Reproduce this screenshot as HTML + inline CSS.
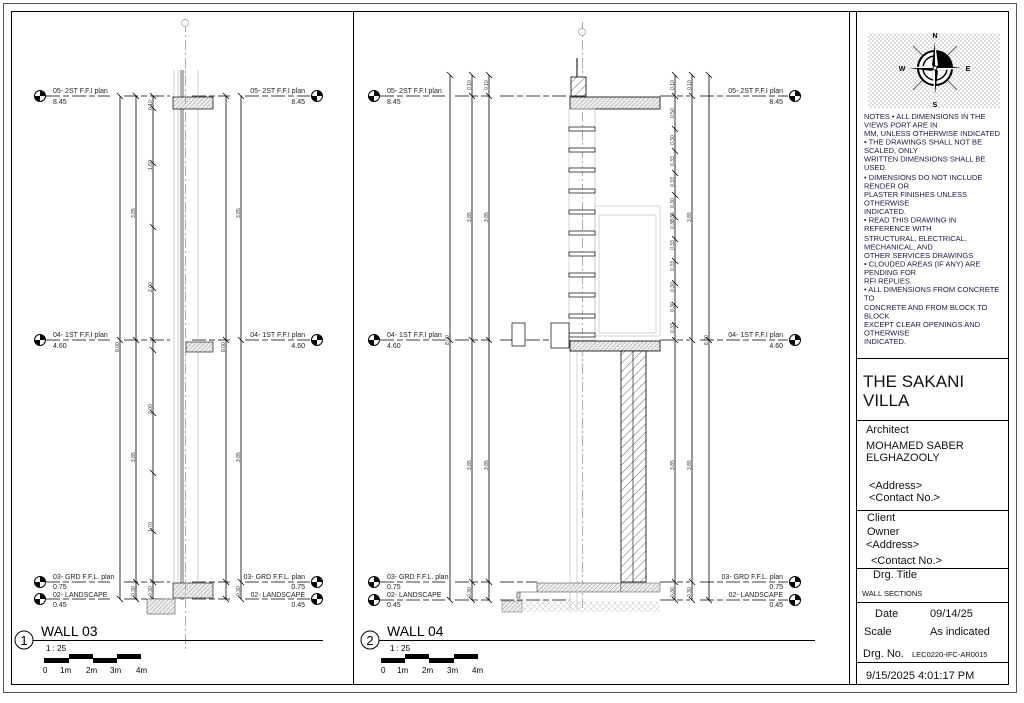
<!DOCTYPE html>
<html><head><meta charset="utf-8">
<style>
html,body{margin:0;padding:0;background:#fff;}
svg{display:block;font-family:"Liberation Sans",Arial,sans-serif;}
.lv{font-size:7px;fill:#222;}
.dm{font-size:5px;fill:#333;}
.nt{font-size:7.5px;fill:#1a1a40;}
</style></head><body>
<svg width="1024" height="703" viewBox="0 0 1024 703" xmlns="http://www.w3.org/2000/svg">
<defs>
<pattern id="h" width="3" height="3" patternUnits="userSpaceOnUse" patternTransform="rotate(45)"><rect width="3" height="3" fill="#eee"/><line x1="0" y1="0" x2="0" y2="3" stroke="#888" stroke-width="0.8"/></pattern>
<pattern id="hd" width="6" height="6" patternUnits="userSpaceOnUse" patternTransform="rotate(45)"><rect width="6" height="6" fill="#fff"/><line x1="0" y1="0" x2="0" y2="6" stroke="#666" stroke-width="1"/></pattern>
<pattern id="chk" width="4" height="4" patternUnits="userSpaceOnUse"><rect width="4" height="4" fill="#fff"/><rect width="2" height="2" fill="#ddd"/><rect x="2" y="2" width="2" height="2" fill="#ddd"/></pattern>
<pattern id="xh" width="6" height="6" patternUnits="userSpaceOnUse"><path d="M0 0L6 6M6 0L0 6" stroke="#ccc" stroke-width="0.6"/></pattern>
<g id="mk"><circle r="5.5" fill="#fff" stroke="#000" stroke-width="1"/><path d="M0 -5.5A5.5 5.5 0 0 1 5.5 0L0 0Z M0 5.5A5.5 5.5 0 0 1 -5.5 0L0 0Z" fill="#000"/></g>
</defs>
<rect width="1024" height="703" fill="#fff"/>
<rect x="3.5" y="3.5" width="1013" height="689" fill="none" stroke="#555" stroke-width="1"/>
<rect x="11.5" y="11.5" width="997" height="673" fill="none" stroke="#000" stroke-width="1"/>
<line x1="353.5" y1="11" x2="353.5" y2="685" stroke="#000"/>
<line x1="849.5" y1="11" x2="849.5" y2="685" stroke="#000"/>
<line x1="856.5" y1="11" x2="856.5" y2="685" stroke="#000"/>

<!-- ===== WALL 03 ===== -->
<g stroke="#000" stroke-width="0.8" fill="none">
<path d="M46 96H110M124 96H170M192 96H230M245 96H310" stroke-dasharray="14 3 6 3"/>
<path d="M46 340H110M124 340H170M192 340H230M245 340H310" stroke-dasharray="14 3 6 3"/>
<path d="M46 582H110M124 582H170M192 582H230M245 582H310" stroke-dasharray="14 3 6 3"/>
<path d="M46 599H110M124 599H170M192 599H230M245 599H310" stroke-dasharray="14 3 6 3"/>
<line x1="120" y1="96" x2="120" y2="599"/><line x1="136" y1="96" x2="136" y2="599"/><line x1="153" y1="96" x2="153" y2="599"/>
<line x1="226" y1="96" x2="226" y2="599"/><line x1="241" y1="96" x2="241" y2="599"/>
<path d="M117 93l6 6M133 93l6 6M150 93l6 6M223 93l6 6M238 93l6 6M117 337l6 6M133 337l6 6M150 337l6 6M223 337l6 6M238 337l6 6M133 579l6 6M150 579l6 6M223 579l6 6M238 579l6 6M117 596l6 6M133 596l6 6M150 596l6 6M223 596l6 6M238 596l6 6M150 105l6 6M150 160l6 6M150 224l6 6M150 285l6 6M150 347l6 6M150 410l6 6M150 470l6 6M150 528l6 6"/>
</g>
<g stroke="#bbb" stroke-width="0.7"><line x1="174" y1="70" x2="174" y2="600"/><line x1="178" y1="70" x2="178" y2="600"/><line x1="198" y1="70" x2="198" y2="600"/></g>
<g stroke="#444" stroke-width="0.8"><line x1="181" y1="70" x2="181" y2="600"/><line x1="183" y1="70" x2="183" y2="600"/></g>
<rect x="173" y="97" width="40" height="12" fill="url(#h)" stroke="#000" stroke-width="0.7"/>
<rect x="186" y="342" width="27" height="10" fill="url(#h)" stroke="#000" stroke-width="0.6"/>
<rect x="173" y="583" width="40" height="15" fill="url(#h)" stroke="#000" stroke-width="0.6"/>
<rect x="147" y="599" width="28" height="15" fill="url(#h)" stroke="#555" stroke-width="0.6"/>
<line x1="185.5" y1="22" x2="185.5" y2="650" stroke="#999" stroke-width="0.8" stroke-dasharray="10 3 2 3"/>
<circle cx="185" cy="23" r="3.5" fill="#fff" stroke="#999" stroke-width="0.7"/>
<use href="#mk" x="40" y="96"/><use href="#mk" x="40" y="340"/><use href="#mk" x="40" y="582"/><use href="#mk" x="40" y="599"/>
<use href="#mk" x="317" y="96"/><use href="#mk" x="317" y="340"/><use href="#mk" x="317" y="582"/><use href="#mk" x="317" y="599"/>
<g class="lv">
<text x="53" y="93">05- 2ST F.F.I plan</text><text x="53" y="104">8.45</text>
<text x="53" y="337">04- 1ST F.F.I plan</text><text x="53" y="348">4.60</text>
<text x="53" y="579">03- GRD F.F.L. plan</text><text x="53" y="589">0.75</text>
<text x="53" y="597">02- LANDSCAPE</text><text x="53" y="607">0.45</text>
<g text-anchor="end"><text x="305" y="93">05- 2ST F.F.I plan</text><text x="305" y="104">8.45</text>
<text x="305" y="337">04- 1ST F.F.I plan</text><text x="305" y="348">4.60</text>
<text x="305" y="579">03- GRD F.F.L. plan</text><text x="305" y="589">0.75</text>
<text x="305" y="597">02- LANDSCAPE</text><text x="305" y="607">0.45</text></g>
</g>
<g class="dm">
<text transform="translate(135,218) rotate(-90)">3.85</text><text transform="translate(240,218) rotate(-90)">3.85</text>
<text transform="translate(135,462) rotate(-90)">3.85</text><text transform="translate(240,462) rotate(-90)">3.85</text>
<text transform="translate(119,352) rotate(-90)">8.00</text><text transform="translate(225,352) rotate(-90)">8.00</text>
<text transform="translate(152,170) rotate(-90)">1.60</text><text transform="translate(152,292) rotate(-90)">2.00</text>
<text transform="translate(152,414) rotate(-90)">2.00</text><text transform="translate(152,532) rotate(-90)">1.70</text>
<text transform="translate(152,110) rotate(-90)">0.10</text><text transform="translate(135,596) rotate(-90)">0.30</text>
<text transform="translate(152,596) rotate(-90)">0.30</text><text transform="translate(240,596) rotate(-90)">0.30</text>
</g>
<circle cx="24" cy="640" r="9" fill="#fff" stroke="#000"/><text x="24" y="645" font-size="13" text-anchor="middle">1</text>
<text x="41" y="636" font-size="14">WALL 03</text>
<line x1="33" y1="640.5" x2="323" y2="640.5" stroke="#000"/>
<text x="46" y="651" font-size="8">1 : 25</text>
<g fill="#000"><rect x="44" y="658" width="25" height="5"/><rect x="69" y="654" width="24" height="5"/><rect x="93" y="658" width="24" height="5"/><rect x="117" y="654" width="24" height="5"/></g>
<g font-size="8"><text x="43" y="673">0</text><text x="60" y="673">1m</text><text x="86" y="673">2m</text><text x="110" y="673">3m</text><text x="136" y="673">4m</text></g>

<!-- ===== WALL 04 ===== -->
<g stroke="#000" stroke-width="0.8" fill="none">
<path d="M380 96H445M455 96H490M500 96H570M660 96H690M700 96H788" stroke-dasharray="14 3 6 3"/>
<path d="M380 340H445M455 340H490M500 340H570M660 340H690M700 340H788" stroke-dasharray="14 3 6 3"/>
<path d="M380 582H445M455 582H490M500 582H537M660 582H690M700 582H788" stroke-dasharray="14 3 6 3"/>
<path d="M380 600H445M455 600H490M500 600H570M660 600H690M700 600H788" stroke-dasharray="14 3 6 3"/>
<line x1="450" y1="75" x2="450" y2="600"/><line x1="472" y1="75" x2="472" y2="600"/><line x1="489" y1="75" x2="489" y2="600"/>
<line x1="675" y1="75" x2="675" y2="600"/><line x1="692" y1="75" x2="692" y2="600"/><line x1="709" y1="75" x2="709" y2="600"/>
<path d="M447 72l6 6M469 72l6 6M486 72l6 6M672 72l6 6M689 72l6 6M706 72l6 6M469 93l6 6M486 93l6 6M672 93l6 6M689 93l6 6M447 337l6 6M469 337l6 6M486 337l6 6M672 337l6 6M689 337l6 6M706 337l6 6M469 579l6 6M486 579l6 6M672 579l6 6M689 579l6 6M447 597l6 6M469 597l6 6M486 597l6 6M672 597l6 6M689 597l6 6M706 597l6 6M672 126l6 6M672 148l6 6M672 170l6 6M672 192l6 6M672 214l6 6M672 236l6 6M672 258l6 6M672 280l6 6M672 302l6 6M672 322l6 6"/>
</g>
<line x1="582.5" y1="22" x2="582.5" y2="612" stroke="#999" stroke-width="0.8" stroke-dasharray="10 3 2 3"/>
<circle cx="582" cy="32" r="3.5" fill="#fff" stroke="#999" stroke-width="0.7"/>
<line x1="577" y1="58" x2="577" y2="77" stroke="#555" stroke-width="1.5"/>
<rect x="571" y="77" width="15" height="19" fill="url(#hd)" stroke="#000" stroke-width="0.8"/>
<rect x="570" y="97" width="90" height="12" fill="url(#h)" stroke="#000" stroke-width="0.8"/>
<g stroke="#bbb" stroke-width="0.6" fill="none"><rect x="569" y="109" width="26" height="231"/><rect x="595" y="206" width="65" height="130"/><rect x="599" y="215" width="57" height="118"/><line x1="570" y1="340" x2="570" y2="610"/><line x1="577" y1="340" x2="577" y2="610"/></g>
<g fill="#fff" stroke="#000" stroke-width="0.7">
<rect x="569" y="127" width="26" height="4"/><rect x="569" y="148" width="26" height="4"/><rect x="569" y="168" width="26" height="4"/><rect x="569" y="189" width="26" height="4"/><rect x="569" y="210" width="26" height="4"/><rect x="569" y="231" width="26" height="4"/><rect x="569" y="252" width="26" height="4"/><rect x="569" y="273" width="26" height="4"/><rect x="569" y="293" width="26" height="4"/><rect x="569" y="314" width="26" height="4"/><rect x="569" y="333" width="26" height="4"/>
<rect x="512" y="323" width="13" height="23"/><rect x="551" y="323" width="18" height="25"/>
</g>
<rect x="570" y="341" width="90" height="10" fill="url(#h)" stroke="#000" stroke-width="0.8"/>
<rect x="621" y="351" width="25" height="231" fill="url(#hd)" stroke="#000" stroke-width="0.8"/>
<line x1="633" y1="351" x2="633" y2="582" stroke="#000" stroke-width="0.6"/>
<path d="M537 583H621V592H520V598H517V592H537Z" fill="url(#h)" stroke="#333" stroke-width="0.6"/>
<rect x="621" y="583" width="39" height="9" fill="url(#h)" stroke="#555" stroke-width="0.5"/>
<rect x="502" y="601" width="20" height="11" fill="url(#h)" stroke="#666" stroke-width="0.5"/>
<rect x="522" y="601" width="138" height="11" fill="url(#xh)"/>
<use href="#mk" x="374" y="96"/><use href="#mk" x="374" y="340"/><use href="#mk" x="374" y="582"/><use href="#mk" x="374" y="600"/>
<use href="#mk" x="795" y="96"/><use href="#mk" x="795" y="340"/><use href="#mk" x="795" y="582"/><use href="#mk" x="795" y="600"/>
<g class="lv">
<text x="387" y="93">05- 2ST F.F.I plan</text><text x="387" y="104">8.45</text>
<text x="387" y="337">04- 1ST F.F.I plan</text><text x="387" y="348">4.60</text>
<text x="387" y="579">03- GRD F.F.L. plan</text><text x="387" y="589">0.75</text>
<text x="387" y="597">02- LANDSCAPE</text><text x="387" y="607">0.45</text>
<g text-anchor="end"><text x="783" y="93">05- 2ST F.F.I plan</text><text x="783" y="104">8.45</text>
<text x="783" y="337">04- 1ST F.F.I plan</text><text x="783" y="348">4.60</text>
<text x="783" y="579">03- GRD F.F.L. plan</text><text x="783" y="589">0.75</text>
<text x="783" y="597">02- LANDSCAPE</text><text x="783" y="607">0.45</text></g>
</g>
<g class="dm">
<text transform="translate(471,222) rotate(-90)">3.85</text><text transform="translate(488,222) rotate(-90)">3.85</text>
<text transform="translate(674,222) rotate(-90)">3.85</text><text transform="translate(691,222) rotate(-90)">3.85</text>
<text transform="translate(471,470) rotate(-90)">3.85</text><text transform="translate(488,470) rotate(-90)">3.85</text>
<text transform="translate(674,470) rotate(-90)">3.85</text><text transform="translate(691,470) rotate(-90)">3.85</text>
<text transform="translate(449,345) rotate(-90)">8.00</text><text transform="translate(708,345) rotate(-90)">8.00</text>
<text transform="translate(471,90) rotate(-90)">0.10</text><text transform="translate(488,90) rotate(-90)">0.10</text>
<text transform="translate(674,90) rotate(-90)">0.10</text><text transform="translate(691,90) rotate(-90)">0.10</text>
<text transform="translate(674,118) rotate(-90)">0.50</text><text transform="translate(674,145) rotate(-90)">0.30</text>
<text transform="translate(674,166) rotate(-90)">0.33</text><text transform="translate(674,187) rotate(-90)">0.33</text>
<text transform="translate(674,208) rotate(-90)">0.30</text><text transform="translate(674,229) rotate(-90)">0.30</text>
<text transform="translate(674,250) rotate(-90)">0.33</text><text transform="translate(674,271) rotate(-90)">0.33</text>
<text transform="translate(674,292) rotate(-90)">0.30</text><text transform="translate(674,312) rotate(-90)">0.30</text>
<text transform="translate(674,333) rotate(-90)">0.33</text>
<text transform="translate(471,597) rotate(-90)">0.30</text><text transform="translate(674,597) rotate(-90)">0.30</text><text transform="translate(691,597) rotate(-90)">0.30</text>
</g>
<circle cx="370" cy="640" r="9" fill="#fff" stroke="#000"/><text x="370" y="645" font-size="13" text-anchor="middle">2</text>
<text x="387" y="636" font-size="14">WALL 04</text>
<line x1="379" y1="640.5" x2="815" y2="640.5" stroke="#000"/>
<text x="390" y="651" font-size="8">1 : 25</text>
<g fill="#000"><rect x="381" y="658" width="24" height="5"/><rect x="405" y="654" width="24" height="5"/><rect x="429" y="658" width="25" height="5"/><rect x="454" y="654" width="24" height="5"/></g>
<g font-size="8"><text x="381" y="673">0</text><text x="397" y="673">1m</text><text x="422" y="673">2m</text><text x="447" y="673">3m</text><text x="472" y="673">4m</text></g>

<!-- ===== TITLE BLOCK ===== -->
<g stroke="#000" stroke-width="1" fill="none">
<line x1="857" y1="358.5" x2="1008" y2="358.5"/>
<line x1="857" y1="420.5" x2="1008" y2="420.5"/>
<line x1="857" y1="510.5" x2="1008" y2="510.5"/>
<line x1="857" y1="568.5" x2="1008" y2="568.5"/>
<line x1="857" y1="602.5" x2="1008" y2="602.5"/>
<line x1="857" y1="662.5" x2="1008" y2="662.5"/>
<line x1="1008.5" y1="11" x2="1008.5" y2="685"/>
</g>
<rect x="868" y="33" width="132" height="75" fill="url(#chk)"/>
<g transform="translate(935,68)">
<g stroke="#333" stroke-width="0.7"><line x1="-22" y1="-22" x2="22" y2="22"/><line x1="22" y1="-22" x2="-22" y2="22"/></g>
<circle r="17" fill="#fff" stroke="#000" stroke-width="2"/><circle r="12" fill="none" stroke="#000" stroke-width="1.5"/>
<path d="M0 -17A17 17 0 0 1 17 0L0 0Z" fill="#000"/>
<path d="M0 -26L3 -3L26 0L3 3L0 26L-3 3L-26 0L-3 -3Z" fill="#000"/>
<path d="M0 -26L3 -3L0 0Z M26 0L3 3L0 0Z M0 26L-3 3L0 0Z M-26 0L-3 -3L0 0Z" fill="#fff"/>
<circle r="2" fill="#fff" stroke="#000"/>
<g font-size="7" font-weight="bold" text-anchor="middle"><text y="-30">N</text><text y="39">S</text><text x="-33" y="3">W</text><text x="33" y="3">E</text></g>
</g>
<g class="nt">
<text x="864" y="119">NOTES • ALL DIMENSIONS IN THE</text>
<text x="864" y="127.5">VIEWS PORT ARE IN</text>
<text x="864" y="136">MM, UNLESS OTHERWISE INDICATED</text>
<text x="864" y="144.5">• THE DRAWINGS SHALL NOT BE</text>
<text x="864" y="153">SCALED, ONLY</text>
<text x="864" y="161.5">WRITTEN DIMENSIONS SHALL BE</text>
<text x="864" y="170">USED.</text>
<text x="864" y="180">• DIMENSIONS DO NOT INCLUDE</text>
<text x="864" y="188.5">RENDER OR</text>
<text x="864" y="197">PLASTER FINISHES UNLESS</text>
<text x="864" y="205.5">OTHERWISE</text>
<text x="864" y="214">INDICATED.</text>
<text x="864" y="222.5">• READ THIS DRAWING IN</text>
<text x="864" y="231">REFERENCE WITH</text>
<text x="864" y="241">STRUCTURAL, ELECTRICAL,</text>
<text x="864" y="249.5">MECHANICAL, AND</text>
<text x="864" y="258">OTHER SERVICES DRAWINGS</text>
<text x="864" y="266.5">• CLOUDED AREAS (IF ANY) ARE</text>
<text x="864" y="275">PENDING FOR</text>
<text x="864" y="283.5">RFI REPLIES.</text>
<text x="864" y="292">• ALL DIMENSIONS FROM CONCRETE</text>
<text x="864" y="300.5">TO</text>
<text x="864" y="310">CONCRETE AND FROM BLOCK TO</text>
<text x="864" y="318.5">BLOCK</text>
<text x="864" y="327">EXCEPT CLEAR OPENINGS AND</text>
<text x="864" y="335.5">OTHERWISE</text>
<text x="864" y="344">INDICATED.</text>
</g>
<g fill="#111">
<text x="863" y="387" font-size="17">THE SAKANI</text>
<text x="863" y="406" font-size="17">VILLA</text>
<text x="866" y="433" font-size="11">Architect</text>
<text x="866" y="449" font-size="11">MOHAMED SABER</text>
<text x="866" y="461" font-size="11">ELGHAZOOLY</text>
<text x="869" y="489" font-size="11">&lt;Address&gt;</text>
<text x="869" y="501" font-size="11">&lt;Contact No.&gt;</text>
<text x="867" y="521" font-size="11">Client</text>
<text x="867" y="535" font-size="11">Owner</text>
<text x="866" y="548" font-size="11">&lt;Address&gt;</text>
<text x="871" y="564" font-size="11">&lt;Contact No.&gt;</text>
<text x="873" y="578" font-size="11">Drg. Title</text>
<text x="862" y="596" font-size="7.5">WALL SECTIONS</text>
<text x="875" y="617" font-size="11">Date</text><text x="930" y="617" font-size="11">09/14/25</text>
<text x="864" y="635" font-size="11">Scale</text><text x="930" y="635" font-size="11">As indicated</text>
<text x="863" y="657" font-size="11">Drg. No.</text><text x="912" y="657" font-size="7.5">LEC0220-IFC-AR0015</text>
<text x="866" y="679" font-size="11">9/15/2025 4:01:17 PM</text>
</g>
</svg>
</body></html>
